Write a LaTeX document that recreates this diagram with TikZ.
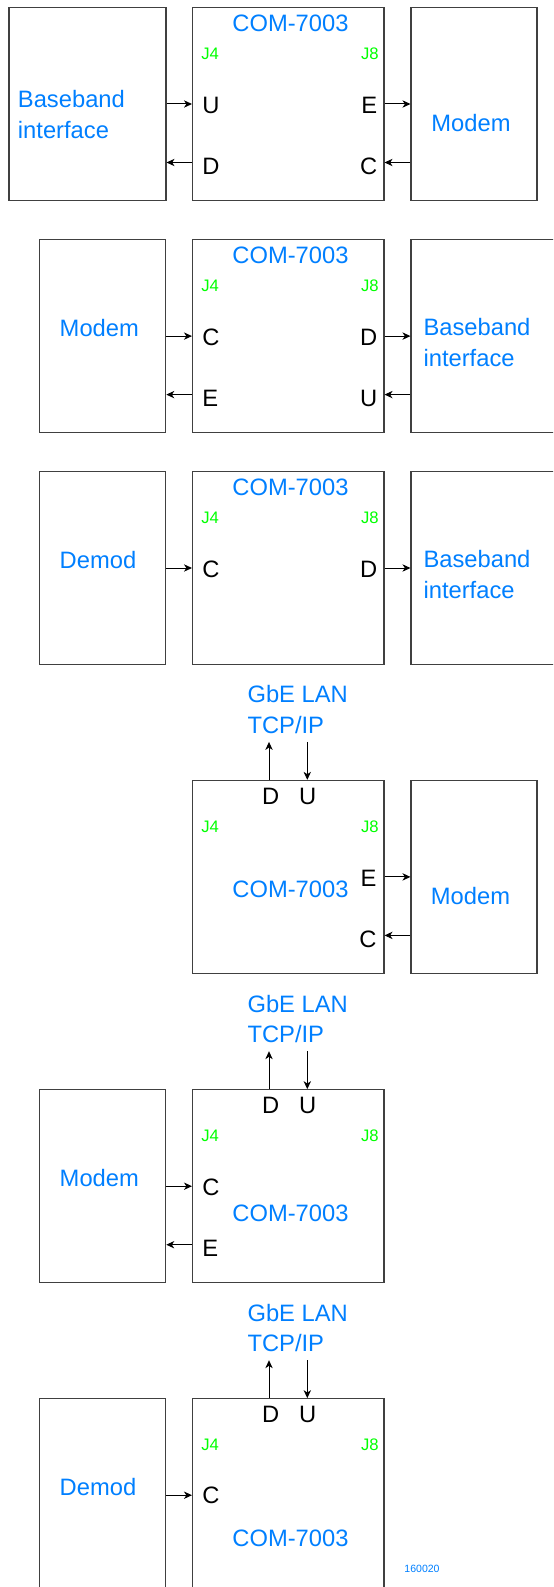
\documentclass[tikz,border=0pt]{standalone}
\usepackage{fontspec}
\setmainfont{Liberation Sans}
\usetikzlibrary{arrows.meta}
\definecolor{LabelBlue}{HTML}{007FFF}
\definecolor{PinGreen}{HTML}{00FF00}
\definecolor{BoxGray}{HTML}{404040}

\begin{document}
\begin{tikzpicture}[x=0.75pt,y=-0.75pt,
    every node/.style={inner sep=0pt},
    unitbox/.style={draw=BoxGray,line width=0.8pt,minimum width=143.6pt,minimum height=144.75pt},
    sidebox/.style={draw=BoxGray,line width=0.8pt,minimum width=94.5pt,minimum height=144.75pt},
    lbl/.style={font=\fontsize{17.8}{22.9}\selectfont,text=LabelBlue},
    pinname/.style={font=\fontsize{17.8}{22.9}\selectfont},
    jack/.style={font=\fontsize{12.5}{15}\selectfont,text=PinGreen},
    sig/.style={-{Stealth[length=6pt,width=5.5pt,inset=1.8pt]},line width=0.75pt}]
  \useasboundingbox (0,0) rectangle (553,1587);
  \clip (0,0) rectangle (553,1587);

  % baseband -> modem
  \begin{scope}[shift={(0,7.5)}]
    \node[sidebox,minimum width=117.75pt] (bb1) at (87.5,96.5) {};
    \node[unitbox] (com1) at (288.25,96.5) {};
    \node[sidebox] (mod1) at (474,96.5) {};
    \node[lbl,anchor=base] (com1t) at (290.5,23.6) {COM-7003};
    \node[jack,anchor=base west] (j4a) at (201,51.8) {J4};
    \node[jack,anchor=base east] (j8a) at (379,51.8) {J8};
    \node[pinname,anchor=base west] (u1) at (202,105.6) {U};
    \node[pinname,anchor=base west] (d1) at (202,167) {D};
    \node[pinname,anchor=base east] (e1) at (377.5,105.6) {E};
    \node[pinname,anchor=base east] (c1) at (377.5,167) {C};
    \node[lbl,anchor=base west,align=left] (bb1t) at (17.7,130.6) {Baseband\\interface};
    \node[lbl,anchor=base] (mod1t) at (471,123.6) {Modem};
    \coordinate (p1) at (0,155);
    \draw[sig] (bb1.east) -- (com1.west);
    \draw[sig] (com1.west |- p1) -- (bb1.east |- p1);
    \draw[sig] (com1.east) -- (mod1.west);
    \draw[sig] (mod1.west |- p1) -- (com1.east |- p1);
  \end{scope}

  % modem -> baseband
  \begin{scope}[shift={(0,239.6)}]
    \node[sidebox] (mod2) at (102.75,96.5) {};
    \node[unitbox] (com2) at (288.25,96.5) {};
    \node[sidebox,minimum width=141.75pt] (bb2) at (505.5,96.5) {};
    \node[lbl,anchor=base] (com2t) at (290.5,23.6) {COM-7003};
    \node[jack,anchor=base west] (j4b) at (201,51.8) {J4};
    \node[jack,anchor=base east] (j8b) at (379,51.8) {J8};
    \node[pinname,anchor=base west] (c2) at (202,105.6) {C};
    \node[pinname,anchor=base west] (e2) at (202,167) {E};
    \node[pinname,anchor=base east] (d2) at (377.5,105.6) {D};
    \node[pinname,anchor=base east] (u2) at (377.5,167) {U};
    \node[lbl,anchor=base] (mod2t) at (99.3,96.6) {Modem};
    \node[lbl,anchor=base west,align=left] (bb2t) at (423.3,126.5) {Baseband\\interface};
    \coordinate (p2) at (0,155);
    \draw[sig] (mod2.east) -- (com2.west);
    \draw[sig] (com2.west |- p2) -- (mod2.east |- p2);
    \draw[sig] (com2.east) -- (bb2.west);
    \draw[sig] (bb2.west |- p2) -- (com2.east |- p2);
  \end{scope}

  % demod -> baseband
  \begin{scope}[shift={(0,471.5)}]
    \node[sidebox] (dem3) at (102.75,96.5) {};
    \node[unitbox] (com3) at (288.25,96.5) {};
    \node[sidebox,minimum width=141.75pt] (bb3) at (505.5,96.5) {};
    \node[lbl,anchor=base] (com3t) at (290.5,23.6) {COM-7003};
    \node[jack,anchor=base west] (j4c) at (201,51.8) {J4};
    \node[jack,anchor=base east] (j8c) at (379,51.8) {J8};
    \node[pinname,anchor=base west] (c3) at (202,105.6) {C};
    \node[pinname,anchor=base east] (d3) at (377.5,105.6) {D};
    \node[lbl,anchor=base] (dem3t) at (98,96.6) {Demod};
    \node[lbl,anchor=base west,align=left] (bb3t) at (423.3,126.5) {Baseband\\interface};
    \draw[sig] (dem3.east) -- (com3.west);
    \draw[sig] (com3.east) -- (bb3.west);
  \end{scope}

  % LAN -> modem
  \begin{scope}[shift={(0,780.4)}]
    \node[unitbox] (com4) at (288.25,96.5) {};
    \node[sidebox] (mod4) at (474,96.5) {};
    \node[lbl,anchor=base west,align=left] (lan4) at (247.3,-46.9) {GbE LAN\\TCP/IP};
    \coordinate (lan4d) at (269,-38.5);
    \coordinate (lan4u) at (307.3,-38.5);
    \node[pinname,anchor=base] (d4) at (270.8,23.6) {D};
    \node[pinname,anchor=base] (u4) at (307.8,23.6) {U};
    \node[jack,anchor=base west] (j4d) at (201,51.8) {J4};
    \node[jack,anchor=base east] (j8d) at (379,51.8) {J8};
    \node[pinname,anchor=base east] (e4) at (376.7,105.6) {E};
    \node[pinname,anchor=base east] (c4) at (376.7,167) {C};
    \node[lbl,anchor=base] (com4t) at (290.5,116.6) {COM-7003};
    \node[lbl,anchor=base] (mod4t) at (470.5,123.6) {Modem};
    \coordinate (p4) at (0,155);
    \draw[sig] (com4.north -| lan4d) -- (lan4d);
    \draw[sig] (lan4u) -- (com4.north -| lan4u);
    \draw[sig] (com4.east) -- (mod4.west);
    \draw[sig] (mod4.west |- p4) -- (com4.east |- p4);
  \end{scope}

  % modem -> LAN
  \begin{scope}[shift={(0,1089.7)}]
    \node[sidebox] (mod5) at (102.75,96.5) {};
    \node[unitbox] (com5) at (288.25,96.5) {};
    \node[lbl,anchor=base west,align=left] (lan5) at (247.3,-46.9) {GbE LAN\\TCP/IP};
    \coordinate (lan5d) at (269,-38.5);
    \coordinate (lan5u) at (307.3,-38.5);
    \node[pinname,anchor=base] (d5) at (270.8,23.6) {D};
    \node[pinname,anchor=base] (u5) at (307.8,23.6) {U};
    \node[jack,anchor=base west] (j4e) at (201,51.8) {J4};
    \node[jack,anchor=base east] (j8e) at (379,51.8) {J8};
    \node[pinname,anchor=base west] (c5) at (202,105.6) {C};
    \node[pinname,anchor=base west] (e5) at (202,167) {E};
    \node[lbl,anchor=base] (com5t) at (290.5,131.4) {COM-7003};
    \node[lbl,anchor=base] (mod5t) at (99.3,96.6) {Modem};
    \coordinate (p5) at (0,155);
    \draw[sig] (com5.north -| lan5d) -- (lan5d);
    \draw[sig] (lan5u) -- (com5.north -| lan5u);
    \draw[sig] (mod5.east) -- (com5.west);
    \draw[sig] (com5.west |- p5) -- (mod5.east |- p5);
  \end{scope}

  % demod -> LAN
  \begin{scope}[shift={(0,1398.7)}]
    \node[sidebox] (dem6) at (102.75,96.5) {};
    \node[unitbox] (com6) at (288.25,96.5) {};
    \node[lbl,anchor=base west,align=left] (lan6) at (247.3,-46.9) {GbE LAN\\TCP/IP};
    \coordinate (lan6d) at (269,-38.5);
    \coordinate (lan6u) at (307.3,-38.5);
    \node[pinname,anchor=base] (d6) at (270.8,23.6) {D};
    \node[pinname,anchor=base] (u6) at (307.8,23.6) {U};
    \node[jack,anchor=base west] (j4f) at (201,51.8) {J4};
    \node[jack,anchor=base east] (j8f) at (379,51.8) {J8};
    \node[pinname,anchor=base west] (c6) at (202,104.6) {C};
    \node[lbl,anchor=base] (com6t) at (290.5,147.4) {COM-7003};
    \node[lbl,anchor=base] (dem6t) at (98,96.6) {Demod};
    \node[font=\fontsize{7.9}{9}\selectfont,text=LabelBlue] (tag) at (422,170.3) {160020};
    \draw[sig] (com6.north -| lan6d) -- (lan6d);
    \draw[sig] (lan6u) -- (com6.north -| lan6u);
    \draw[sig] (dem6.east) -- (com6.west);
  \end{scope}
\end{tikzpicture}
\end{document}
